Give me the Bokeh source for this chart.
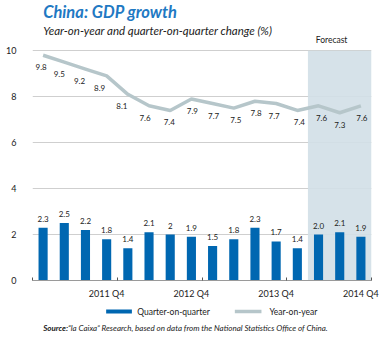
from bokeh.plotting import figure
from bokeh.layouts import column
from bokeh.models import ColumnDataSource, FixedTicker, Label, Range1d
from bokeh.core.properties import value
from bokeh.embed import file_html
from bokeh.resources import INLINE

# ---- data ----
quarters = [f"{y} Q{q}" for y in (2011, 2012, 2013, 2014) for q in (1, 2, 3, 4)]
qoq = [2.3, 2.5, 2.2, 1.8, 1.4, 2.1, 2.0, 1.9, 1.5, 1.8, 2.3, 1.7, 1.4, 2.0, 2.1, 1.9]
yoy = [9.8, 9.5, 9.2, 8.9, 8.1, 7.6, 7.4, 7.9, 7.7, 7.5, 7.8, 7.7, 7.4, 7.6, 7.3, 7.6]
forecast_from = 13  # index of first forecast quarter (2014 Q2)
tick_labels = ["2011 Q4", "2012 Q4", "2013 Q4", "2014 Q4"]
y_ticks = [0, 2, 4, 6, 8, 10]

# ---- style ----
yoy_label_dx = [-2, -5, -6, -7, -6, -4, -1, 1, 1, 2, 1, -2, 2, 3, 0, 1]  # px nudges
FONT = "Lato"
BAR = "#0067b1"
LINE = "#b6c6ca"
SHADE = "#d2dfe7"
TXT = "#222222"
W = 382
TOP_H, BOT_H = 44, 42

xs = list(range(1, len(quarters) + 1))
qoq_lab = [(f"{v:.1f}" if i >= forecast_from else f"{v:g}") for i, v in enumerate(qoq)]
yoy_lab = [f"{v:.1f}" for v in yoy]
src = ColumnDataSource(dict(x=xs, qoq=qoq, yoy=yoy, ql=qoq_lab, yl=yoy_lab, dx=yoy_label_dx))


def blank(h):
    f = figure(width=W, height=h, output_backend="svg", toolbar_location=None,
               x_range=Range1d(0, W), y_range=Range1d(h, 0),
               min_border=0, x_axis_type=None, y_axis_type=None)
    f.outline_line_color = None
    f.grid.visible = False
    return f


# ---- header ----
top = blank(TOP_H)
top.add_layout(Label(x=12, y=11, text="China: GDP growth", text_font=FONT,
                     text_font_style="bold italic", text_font_size="16.5px",
                     text_color="#1f79c3", text_baseline="middle"))
top.add_layout(Label(x=12, y=30, text="Year-on-year and quarter-on-quarter change (%)",
                     text_font=FONT, text_font_style="italic", text_font_size="11.5px",
                     text_color=TXT, text_baseline="middle"))
top.add_layout(Label(x=337, y=39, text="Forecast", text_font=FONT, text_font_size="8.5px",
                     text_color=TXT, text_baseline="middle", text_align="center"))

# ---- main chart ----
# frame: 44..274 px, 22.4 px per unit -> top of range slightly above 10
p = figure(width=W, height=258, output_backend="svg", toolbar_location=None,
           x_range=Range1d(0.5, len(xs) + 0.5), y_range=Range1d(0, 10 + 6 / 22.4),
           min_border_left=32, min_border_right=11, min_border_top=0,
           min_border_bottom=22)
p.outline_line_color = None

p.quad(left=[forecast_from + 0.5], right=[len(xs) + 0.5], bottom=[0], top=[max(y_ticks)],
       fill_color=SHADE, fill_alpha=0.9, line_color=None)
p.vbar(x="x", top="qoq", width=0.43, source=src, fill_color=BAR, line_color=None)
p.line(x="x", y="yoy", source=src, line_color=LINE, line_width=3.5)
p.text(x="x", y="qoq", text="ql", source=src, text_align="center",
       text_baseline="middle", y_offset=-9, text_font=value(FONT),
       text_font_size="8px", text_color=TXT)
p.text(x="x", y="yoy", text="yl", source=src, text_align="center",
       text_baseline="middle", y_offset=12, x_offset="dx", text_font=value(FONT),
       text_font_size="8px", text_color=TXT)

xa = p.xaxis[0]
xa.ticker = FixedTicker(ticks=[4, 8, 12, 16], minor_ticks=[0.5, 4.5, 8.5, 12.5, 16.5])
xa.major_label_overrides = {4: tick_labels[0], 8: tick_labels[1], 12: tick_labels[2], 16: tick_labels[3]}
xa.major_tick_in = 0
xa.major_tick_out = 0
xa.minor_tick_in = 3
xa.minor_tick_out = 0
xa.minor_tick_line_color = "#555555"
xa.axis_line_color = "#9a9a9a"
xa.major_label_standoff = 7
xa.major_label_text_font = FONT
xa.major_label_text_font_size = "9px"
xa.major_label_text_color = TXT

ya = p.yaxis[0]
ya.ticker = FixedTicker(ticks=y_ticks)
ya.axis_line_color = None
ya.major_tick_line_color = None
ya.minor_tick_line_color = None
ya.major_label_standoff = 10
ya.major_label_text_font = FONT
ya.major_label_text_font_size = "9px"
ya.major_label_text_color = TXT

p.xgrid.grid_line_color = None
p.ygrid.ticker = FixedTicker(ticks=y_ticks[1:])
p.ygrid.grid_line_color = "#cfcfcf"

# ---- footer: legend + source ----
bot = blank(BOT_H)
bot.quad(left=[83], right=[112], top=[7], bottom=[11], fill_color=BAR, line_color=None)
bot.segment(x0=[228], x1=[258], y0=[9], y1=[9], line_color=LINE, line_width=3.5)
bot.add_layout(Label(x=118, y=9, text="Quarter-on-quarter", text_font=FONT,
                     text_font_size="8.5px", text_color=TXT, text_baseline="middle"))
bot.add_layout(Label(x=267, y=9, text="Year-on-year", text_font=FONT,
                     text_font_size="8.5px", text_color=TXT, text_baseline="middle"))
bot.add_layout(Label(x=12, y=25, text="Source:", text_font=FONT,
                     text_font_style="bold italic", text_font_size="8px",
                     text_color=TXT, text_baseline="middle"))
bot.add_layout(Label(x=40, y=25,
                     text="\u201cla Caixa\u201d Research, based on data from the National Statistics Office of China.",
                     text_font=FONT, text_font_style="italic", text_font_size="8px",
                     text_color=TXT, text_baseline="middle"))

layout = column(top, p, bot, spacing=0)
open("out.html", "w").write(file_html(layout, INLINE))
